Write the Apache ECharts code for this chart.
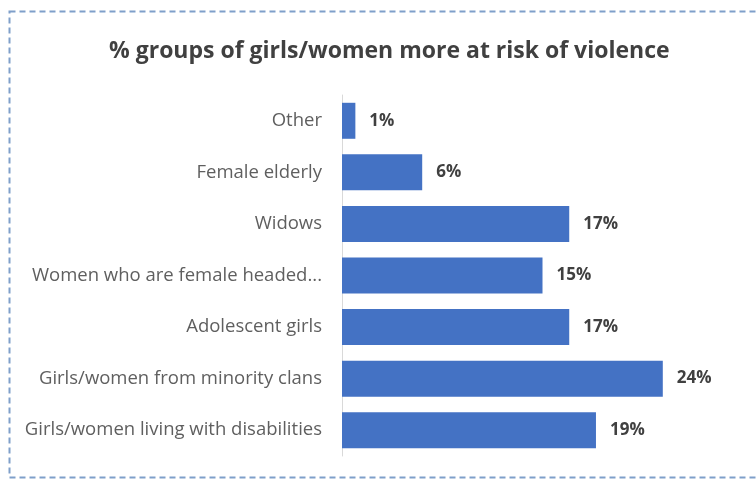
<!DOCTYPE html>
<html>
<head>
<meta charset="utf-8">
<script src="https://cdn.jsdelivr.net/npm/echarts@6/dist/echarts.min.js"></script>
<style>
  html, body { margin: 0; padding: 0; background: #ffffff; }
  #chart { width: 756px; height: 480px; }
</style>
</head>
<body>
<div id="chart"></div>
<script>
// Groups listed top to bottom as shown
const groups = [
  'Other',
  'Female elderly',
  'Widows',
  'Women who are female headed...',
  'Adolescent girls',
  'Girls/women from minority clans',
  'Girls/women living with disabilities'
];
const shares = [1, 6, 17, 15, 17, 24, 19];
const chartTitle = '% groups of girls/women more at risk of violence';

const chart = echarts.init(document.getElementById('chart'), null, { renderer: 'canvas' });

chart.setOption({
  backgroundColor: '#ffffff',
  animation: false,
  title: {
    text: chartTitle,
    left: 104,
    top: 35,
    textStyle: {
      fontFamily: 'Open Sans',
      fontSize: 23,
      fontWeight: 'bold',
      color: '#404040'
    }
  },
  graphic: [{
    type: 'rect',
    shape: { x: 9.5, y: 11.5, width: 760, height: 466 },
    style: {
      fill: null,
      stroke: '#7f9fca',
      lineWidth: 2,
      lineDash: [6, 4]
    },
    silent: true
  }],
  grid: {
    left: 342,
    top: 95,
    width: 401,
    height: 361
  },
  xAxis: {
    type: 'value',
    min: 0,
    max: 30,
    show: false
  },
  yAxis: {
    type: 'category',
    data: groups,
    inverse: true,
    axisLine: { show: true, lineStyle: { color: '#d9d9d9', width: 1 } },
    axisTick: { show: false },
    axisLabel: {
      margin: 20,
      fontFamily: 'Open Sans',
      fontSize: 18.5,
      color: '#5f5f5f'
    }
  },
  series: [{
    type: 'bar',
    data: shares,
    barWidth: 36,
    itemStyle: { color: '#4472c4' },
    label: {
      show: true,
      position: 'right',
      distance: 14,
      formatter: '{c}%',
      fontFamily: 'Open Sans',
      fontSize: 17,
      fontWeight: 'bold',
      color: '#404040'
    }
  }]
});
</script>
</body>
</html>
